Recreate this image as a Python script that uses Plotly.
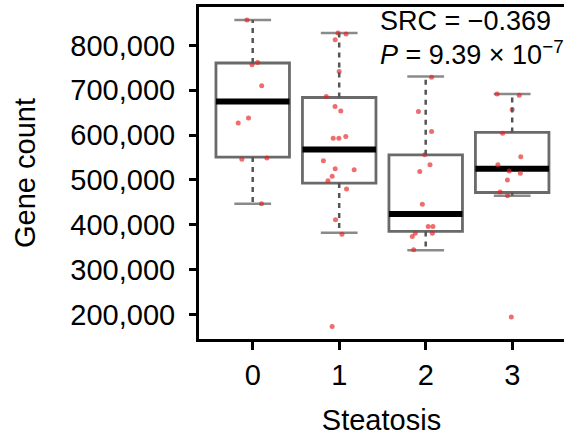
import plotly.graph_objects as go

# ---- data ----
categories = [0, 1, 2, 3]
tick_labels = ["0", "1", "2", "3"]

q1 = [551000, 493000, 385000, 472000]
median = [675000, 568000, 424000, 525000]
q3 = [761000, 684000, 556000, 606000]
lower_whisker = [447000, 382000, 343000, 465000]
upper_whisker = [857000, 828000, 731000, 692000]

points_0 = [857000, 762000, 757000, 710000, 638000, 627000, 549000, 546000, 447000]
points_1 = [828000, 826000, 813000, 742000, 686000, 664000, 654000, 597000, 593000,
            593000, 543000, 525000, 523000, 508000, 498000, 480000, 411000, 379000, 173000]
points_2 = [729000, 653000, 608000, 556000, 534000, 519000, 446000, 396000, 396000,
            381000, 381000, 374000, 344000]
points_3 = [692000, 689000, 657000, 604000, 552000, 534000, 520000, 515000, 500000,
            473000, 465000, 194000]
group_points = [points_0, points_1, points_2, points_3]

src_text = "SRC = \u22120.369"
p_text = "<i>P</i> = 9.39 \u00d7 10<sup>\u22127</sup>"

FONT = "Liberation Sans, Arial, Helvetica, sans-serif"
BOX_W = 0.85

fig = go.Figure()

# whiskers (dashed)
wx, wy = [], []
for c, a, b, lo, hi in zip(categories, q1, q3, lower_whisker, upper_whisker):
    wx += [c, c, None, c, c, None]
    wy += [b, hi, None, a, lo, None]
fig.add_trace(go.Scatter(x=wx, y=wy, mode="lines",
                         line=dict(color="#555555", width=2.5, dash="5px,5px"),
                         hoverinfo="skip", showlegend=False))

# whisker caps
for vals in (upper_whisker, lower_whisker):
    fig.add_trace(go.Box(x=categories, q1=vals, q3=vals, median=vals,
                         lowerfence=vals, upperfence=vals, width=BOX_W * 0.5,
                         line=dict(color="#8a8a8a", width=2.5),
                         fillcolor="rgba(0,0,0,0)", boxpoints=False,
                         showlegend=False))

# boxes
fig.add_trace(go.Box(x=categories, q1=q1, q3=q3, median=median,
                     lowerfence=q1, upperfence=q3, width=BOX_W,
                     line=dict(color="#6a6a6a", width=2.8),
                     fillcolor="rgba(0,0,0,0)", boxpoints=False,
                     showlegend=False))

# medians (thick black)
fig.add_trace(go.Box(x=categories, q1=median, q3=median, median=median,
                     lowerfence=median, upperfence=median, width=BOX_W,
                     line=dict(color="black", width=6),
                     fillcolor="rgba(0,0,0,0)", boxpoints=False,
                     showlegend=False))

# jittered points
px, py = [], []
for c, pts in zip(categories, group_points):
    px += [c] * len(pts)
    py += pts
fig.add_trace(go.Box(x=px, y=py, boxpoints="all", jitter=0.5, pointpos=0,
                     width=BOX_W, line=dict(width=0, color="rgba(0,0,0,0)"),
                     fillcolor="rgba(0,0,0,0)",
                     marker=dict(color="rgb(230,30,30)", size=5, opacity=0.65),
                     showlegend=False))

fig.update_layout(
    width=564, height=436,
    margin=dict(l=199, r=0, t=7, b=97),
    paper_bgcolor="white", plot_bgcolor="white",
    font=dict(family=FONT, size=29, color="black"),
    boxmode="overlay",
    showlegend=False,
    xaxis=dict(range=[-0.621, 3.599], tickvals=categories, ticktext=tick_labels,
               showline=True, linewidth=3, linecolor="black", mirror=True,
               ticks="outside", ticklen=8, tickwidth=3, tickcolor="black",
               showgrid=False, zeroline=False,
               tickfont=dict(size=29),
               title=dict(text="Steatosis", font=dict(size=29), standoff=20)),
    yaxis=dict(range=[145000, 886000], dtick=100000, tick0=0, tickformat=",d",
               showline=True, linewidth=3, linecolor="black",
               ticks="outside", ticklen=7, tickwidth=3, tickcolor="black",
               ticklabelstandoff=8,
               showgrid=False, zeroline=False,
               tickfont=dict(size=29),
               title=dict(text="Gene count", font=dict(size=29), standoff=27)),
    annotations=[
        dict(text=src_text, xref="paper", yref="paper", x=0.490, y=0.958,
             xanchor="left", yanchor="middle", showarrow=False,
             font=dict(size=27)),
        dict(text=p_text, xref="paper", yref="paper", x=0.490, y=0.862,
             xanchor="left", yanchor="middle", showarrow=False,
             font=dict(size=27)),
    ],
)

fig.write_html("out.html")
